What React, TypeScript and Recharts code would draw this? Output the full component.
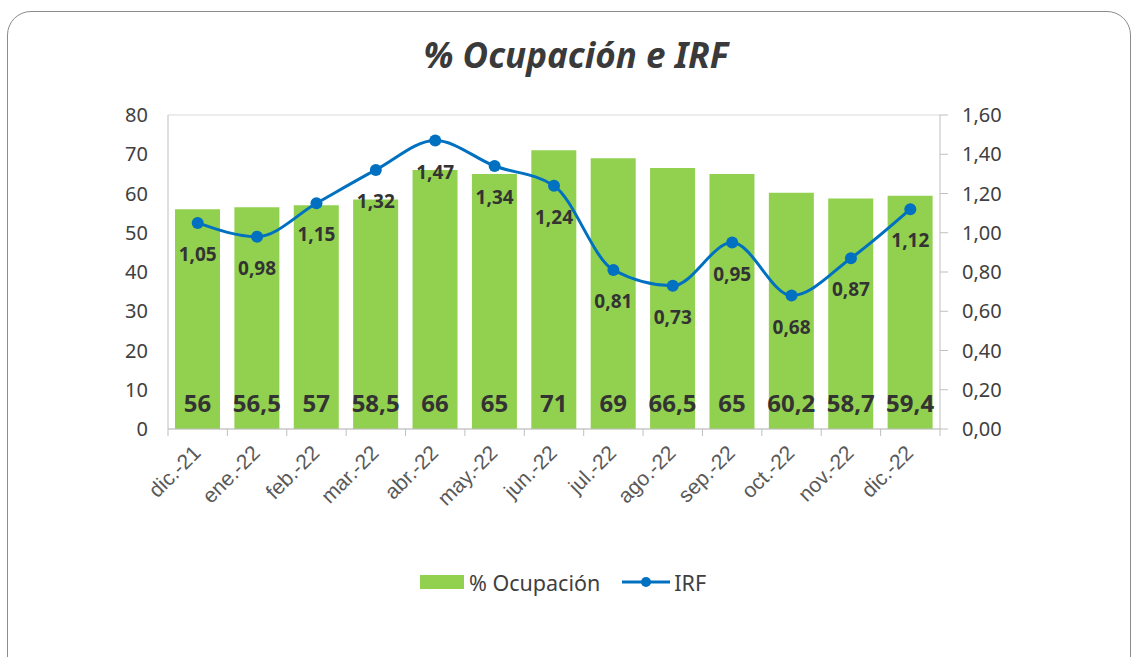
import {
  Bar,
  CartesianGrid,
  ComposedChart,
  LabelList,
  Legend,
  Line,
  XAxis,
  YAxis,
} from "recharts";

const categories = [
  "dic.-21",
  "ene.-22",
  "feb.-22",
  "mar.-22",
  "abr.-22",
  "may.-22",
  "jun.-22",
  "jul.-22",
  "ago.-22",
  "sep.-22",
  "oct.-22",
  "nov.-22",
  "dic.-22",
];
const ocupacion = [56, 56.5, 57, 58.5, 66, 65, 71, 69, 66.5, 65, 60.2, 58.7, 59.4];
const irf = [1.05, 0.98, 1.15, 1.32, 1.47, 1.34, 1.24, 0.81, 0.73, 0.95, 0.68, 0.87, 1.12];
const leftTicks = [0, 10, 20, 30, 40, 50, 60, 70, 80];
const rightTicks = [0, 0.2, 0.4, 0.6, 0.8, 1.0, 1.2, 1.4, 1.6];

const data = categories.map((mes, i) => ({
  mes,
  ocupacion: ocupacion[i],
  irf: irf[i],
}));

const W = 1134;
const H = 657;
const PLOT_LEFT = 168;
const PLOT_RIGHT = 940;
const BAND = (PLOT_RIGHT - PLOT_LEFT) / categories.length;

const GREEN = "#92D050";
const BLUE = "#0070C0";
const TEXT = "#404040";
const AXIS = "#bfbfbf";
const FONT = "'Noto Sans', sans-serif";

const comma = (v: number) => String(v).replace(".", ",");

const MonthTick = (props: any) => {
  const { x, y, payload, index } = props;
  const axisY = y - 8;
  return (
    <g>
      <line x1={x - BAND / 2} y1={axisY} x2={x - BAND / 2} y2={axisY + 7} stroke={AXIS} />
      {index === categories.length - 1 && (
        <line x1={x + BAND / 2} y1={axisY} x2={x + BAND / 2} y2={axisY + 7} stroke={AXIS} />
      )}
      <g transform={`translate(${x - 1},${y + 12})`}>
        <text
          textAnchor="end"
          dy="0.35em"
          transform="rotate(-45)"
          fill="#595959"
          fontSize={21}
          fontFamily="'Liberation Sans', Arial, sans-serif"
        >
          {payload.value}
        </text>
      </g>
    </g>
  );
};

const LegendBox = () => (
  <div
    style={{
      display: "flex",
      justifyContent: "center",
      alignItems: "center",
      gap: 22,
      fontFamily: FONT,
      fontSize: 21.5,
      color: TEXT,
      height: 30,
      marginLeft: -8,
    }}
  >
    <span style={{ display: "flex", alignItems: "center" }}>
      <span style={{ width: 44, height: 14, background: GREEN, marginRight: 5 }} />
      % Ocupación
    </span>
    <span style={{ display: "flex", alignItems: "center" }}>
      <svg width={48} height={14} style={{ marginRight: 4 }}>
        <line x1={0} y1={7} x2={48} y2={7} stroke={BLUE} strokeWidth={3} />
        <circle cx={24} cy={7} r={5} fill={BLUE} />
      </svg>
      IRF
    </span>
  </div>
);

const App = () => {
  return (
    <div
      style={{
        position: "absolute",
        left: 0,
        top: 0,
        width: W,
        height: H,
        overflow: "hidden",
        background: "#fff",
      }}
    >
      <div
        style={{
          position: "absolute",
          left: 7,
          top: 11,
          width: 1122,
          height: 720,
          border: "1.5px solid #8c8c8c",
          borderRadius: 24,
        }}
      />
      <div
        style={{
          position: "absolute",
          left: 0,
          top: 35,
          width: W + 18,
          textAlign: "center",
          fontFamily: FONT,
          fontWeight: 700,
          fontStyle: "italic",
          fontSize: 35,
          color: "#3a3a3a",
          lineHeight: "40px",
        }}
      >
        % Ocupación e IRF
      </div>
      <ComposedChart
        width={W}
        height={H}
        data={data}
        margin={{ top: 115, right: 0, left: 0, bottom: 60 }}
        style={{ position: "absolute", left: 0, top: 0 }}
      >
        <CartesianGrid vertical={false} stroke="#d9d9d9" />
        <XAxis
          dataKey="mes"
          interval={0}
          height={138}
          tickLine={false}
          tickSize={6}
          tickMargin={2}
          axisLine={{ stroke: AXIS }}
          tick={<MonthTick />}
        />
        <YAxis
          yAxisId="left"
          width={PLOT_LEFT}
          domain={[0, 80]}
          ticks={leftTicks}
          tickSize={0}
          tickMargin={20}
          axisLine={{ stroke: AXIS }}
          tick={{ fill: TEXT, fontSize: 20, fontFamily: FONT }}
        />
        <YAxis
          yAxisId="right"
          orientation="right"
          width={W - PLOT_RIGHT}
          domain={[0, 1.6]}
          ticks={rightTicks}
          tickSize={8}
          tickMargin={14}
          tickLine={{ stroke: AXIS }}
          axisLine={{ stroke: AXIS }}
          tickFormatter={(v: number) => v.toFixed(2).replace(".", ",")}
          tick={{ fill: TEXT, fontSize: 20, fontFamily: FONT, textAnchor: "start" }}
        />
        <Legend verticalAlign="bottom" height={30} content={<LegendBox />} />
        <Bar
          yAxisId="left"
          dataKey="ocupacion"
          name="% Ocupación"
          fill={GREEN}
          barSize={45}
          isAnimationActive={false}
        >
          <LabelList
            dataKey="ocupacion"
            content={(p: any) => (
              <text
                x={p.x + p.width / 2}
                y={p.y + p.height - 27}
                textAnchor="middle"
                dominantBaseline="central"
                fill="#333"
                fontSize={24}
                fontWeight={700}
                fontFamily={FONT}
              >
                {comma(p.value)}
              </text>
            )}
          />
        </Bar>
        <Line
          yAxisId="right"
          dataKey="irf"
          name="IRF"
          type="monotone"
          stroke={BLUE}
          strokeWidth={3}
          dot={{ r: 6, fill: BLUE, stroke: BLUE, strokeWidth: 0 }}
          activeDot={false}
          isAnimationActive={false}
        >
          <LabelList
            dataKey="irf"
            content={(p: any) => (
              <text
                x={p.x}
                y={p.y + 31}
                textAnchor="middle"
                dominantBaseline="central"
                fill="#333"
                fontSize={19}
                fontWeight={700}
                fontFamily={FONT}
              >
                {p.value.toFixed(2).replace(".", ",")}
              </text>
            )}
          />
        </Line>
      </ComposedChart>
    </div>
  );
};

export default App;
